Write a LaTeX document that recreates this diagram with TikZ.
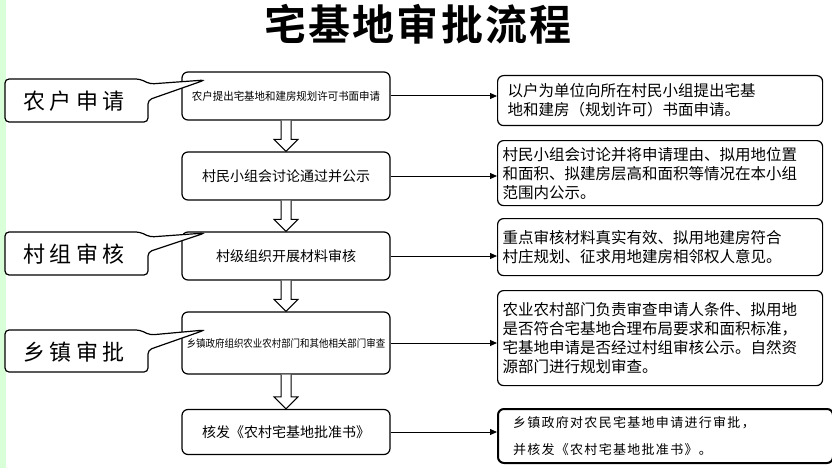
\documentclass[tikz,border=0pt]{standalone}
\usepackage{fontspec}
\setmainfont{Noto Sans CJK SC}
\newfontfamily\cjkb{Noto Sans CJK SC Bold}
\usetikzlibrary{arrows.meta,calc}
\begin{document}
\begin{tikzpicture}[x=1pt,y=-1pt,
  mid/.style={draw,rounded corners=6pt,line width=1.2pt,minimum width=208pt,font=\fontsize{14}{16}\selectfont},
  rb/.style={draw,rounded corners=6pt,line width=1.2pt,align=left,anchor=north west,inner sep=0pt,font=\fontsize{15.5}{19}\selectfont},
  lab/.style={font=\fontsize{22}{24}\selectfont\addfontfeature{LetterSpace=20}},
  con/.style={-{Triangle[length=7pt,width=6pt]},line width=1pt},
  call/.style={line width=1.2pt,rounded corners=4pt,fill=white}]
\useasboundingbox (0,0) rectangle (832,468);
\fill[white] (0,0) rectangle (832,468);
\fill[green!15] (0,0) rectangle (6,468);
\node[font=\cjkb\fontsize{42}{44}\selectfont\addfontfeature{LetterSpace=5}] (title) at (418,24) {宅基地审批流程};
% middle boxes
\node[mid,minimum height=48pt] (m1) at (286,96) {\fontsize{11}{12}\selectfont\addfontfeature{FakeStretch=0.95}农户提出宅基地和建房规划许可书面申请};
\node[mid,minimum height=48pt] (m2) at (286,176) {村民小组会讨论通过并公示};
\node[mid,minimum height=48pt] (m3) at (286,256) {村级组织开展材料审核};
\node[mid,minimum height=62pt] (m4) at (286,343) {\fontsize{10.5}{12}\selectfont\addfontfeature{FakeStretch=0.9}乡镇政府组织农业农村部门和其他相关部门审查};
\node[mid,minimum height=45pt] (m5) at (286,432) {核发《农村宅基地批准书》};
% hollow arrows
\foreach \a/\b in {m1/m2,m2/m3,m3/m4,m4/m5}{
  \draw[line width=1pt,fill=white] let \p1=(\a.south),\p2=(\b.north) in
   (\x1-5,\y1) -- (\x1-5,\y2+12) -- (\x1-12,\y2+12) -- (\x2,\y2) -- (\x1+12,\y2+12) -- (\x1+5,\y2+12) -- (\x1+5,\y1);
}
% right boxes
\node[rb,minimum width=325pt,minimum height=50pt,text width=305pt,inner xsep=10pt] (r1) at (497,75) {以户为单位向所在村民小组提出宅基\\地和建房（规划许可）书面申请。};
\node[rb,minimum width=325pt,minimum height=65pt,text width=315pt,inner xsep=5pt] (r2) at (497,140) {村民小组会讨论并将申请理由、拟用地位置\\和面积、拟建房层高和面积等情况在本小组\\范围内公示。};
\node[rb,minimum width=325pt,minimum height=57pt,text width=315pt,inner xsep=5pt] (r3) at (497,218) {重点审核材料真实有效、拟用地建房符合\\村庄规划、征求用地建房相邻权人意见。};
\node[rb,minimum width=325pt,minimum height=95pt,text width=315pt,inner xsep=5pt] (r4) at (497,290) {农业农村部门负责审查申请人条件、拟用地\\是否符合宅基地合理布局要求和面积标准，\\宅基地申请是否经过村组审核公示。自然资\\源部门进行规划审查。};
\node[rb,line width=2pt,minimum width=325pt,minimum height=54pt,text width=305pt,inner xsep=15pt,font=\fontsize{13}{27}\selectfont\addfontfeature{LetterSpace=10}] (r5) at (497,408) {乡镇政府对农民宅基地申请进行审批，\\并核发《农村宅基地批准书》。};
\foreach \i in {1,...,5}{\draw[con] (m\i.east) -- (m\i.east -| r\i.west);}
% callouts
\draw[call] (5,79) -- (140,79) -- (150,84) -- (205,80) -- (148,100) -- (148,122) -- (5,122) -- cycle;
\node[lab] (l1) at (74,101) {农户申请};
\draw[call] (5,232) -- (140,232) -- (150,237) -- (205,233) -- (148,252) -- (148,275) -- (5,275) -- cycle;
\node[lab] (l2) at (74,254) {村组审核};
\draw[call] (5,330) -- (140,330) -- (150,335) -- (205,330) -- (148,350) -- (148,372) -- (5,372) -- cycle;
\node[lab] (l3) at (74,352) {乡镇审批};
\end{tikzpicture}
\end{document}
